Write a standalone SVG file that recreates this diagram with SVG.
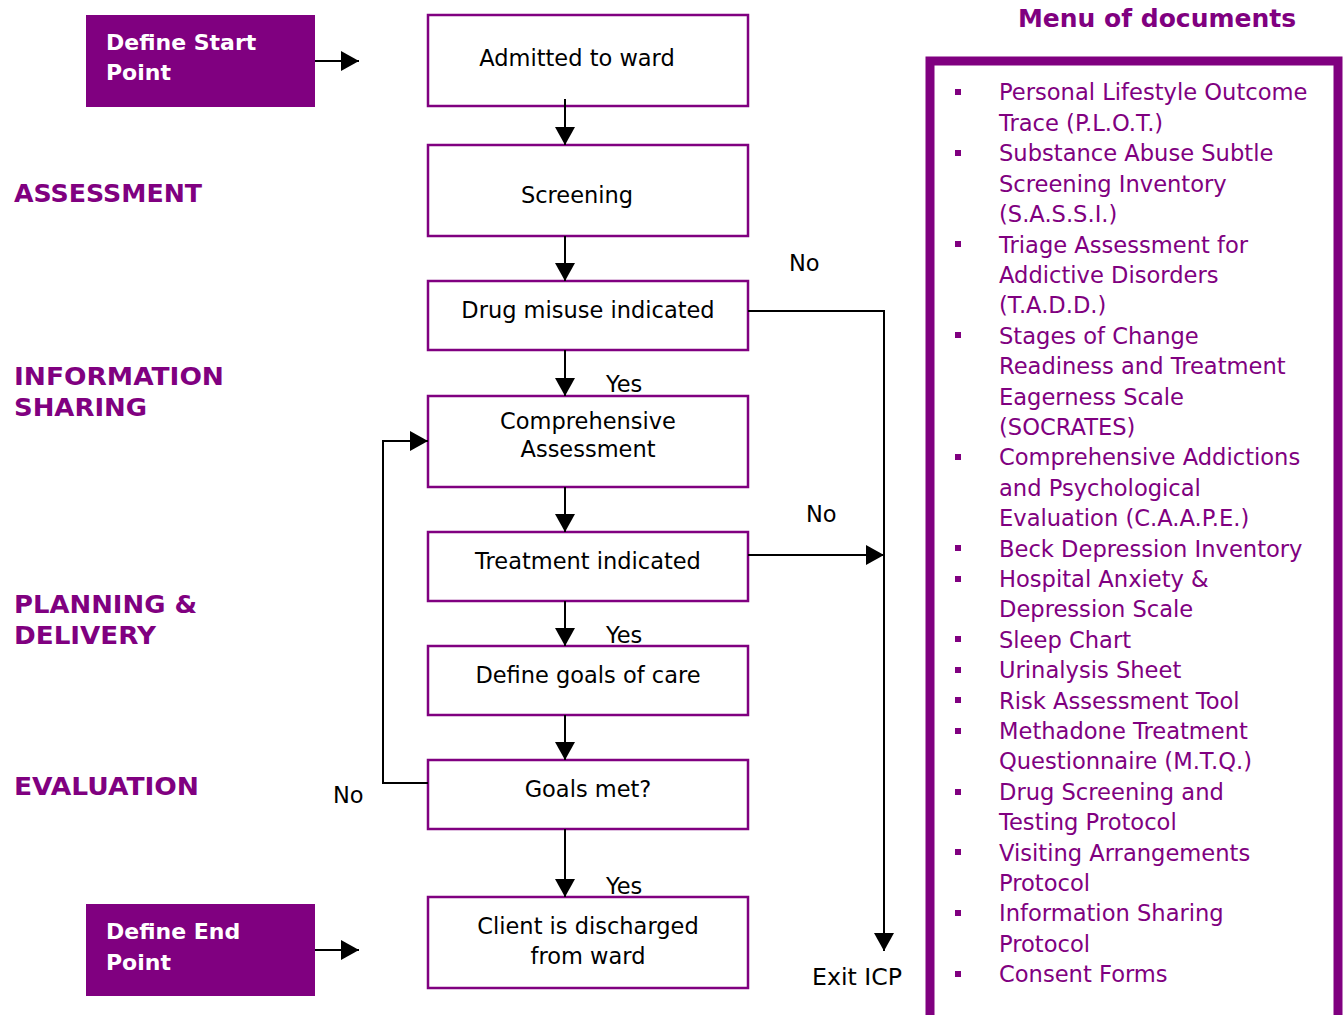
<svg xmlns="http://www.w3.org/2000/svg" width="1343" height="1015" viewBox="0 0 1343 1015">
<style>
text{font-family:"DejaVu Sans","Verdana",sans-serif}
.box{fill:#fff;stroke:#800080;stroke-width:2.5}
.pbox{fill:#800080}
.t{font-size:22.5px;fill:#000}
.tm{font-size:22.5px;fill:#000;text-anchor:middle}
.w{font-size:22px;font-weight:bold;fill:#fff}
.h{font-size:25px;font-weight:bold;fill:#800080}
.m{font-size:22.6px;fill:#800080}
.b{fill:#800080}
.c{fill:none;stroke:#000;stroke-width:2}
</style>
<defs>
<marker id="ah" markerUnits="userSpaceOnUse" markerWidth="18" markerHeight="20" refX="18" refY="10" orient="auto">
<path d="M0,0 L18,10 L0,20 Z" fill="#000"/>
</marker>
</defs>

<g id="labels">
<text class="h" x="14" y="202" textLength="188" lengthAdjust="spacingAndGlyphs">ASSESSMENT</text>
<text class="h" x="14" y="385" textLength="210" lengthAdjust="spacingAndGlyphs">INFORMATION</text>
<text class="h" x="14" y="416" textLength="133" lengthAdjust="spacingAndGlyphs">SHARING</text>
<text class="h" x="14" y="613" textLength="183" lengthAdjust="spacingAndGlyphs">PLANNING &amp;</text>
<text class="h" x="14" y="644" textLength="142" lengthAdjust="spacingAndGlyphs">DELIVERY</text>
<text class="h" x="14" y="795" textLength="185" lengthAdjust="spacingAndGlyphs">EVALUATION</text>
</g>

<g id="start">
<rect class="pbox" x="86" y="15" width="229" height="92"/>
<text class="w" x="106" y="50">Define Start</text>
<text class="w" x="106" y="80">Point</text>
</g>
<g id="end">
<rect class="pbox" x="86" y="904" width="229" height="92"/>
<text class="w" x="106" y="939">Define End</text>
<text class="w" x="106" y="970">Point</text>
</g>

<g id="n1"><rect class="box" x="428" y="15" width="320" height="91"/><text class="tm" x="577" y="66">Admitted to ward</text></g>
<g id="n2"><rect class="box" x="428" y="145" width="320" height="91"/><text class="tm" x="577" y="203">Screening</text></g>
<g id="n3"><rect class="box" x="428" y="281" width="320" height="69"/><text class="tm" x="588" y="318">Drug misuse indicated</text></g>
<g id="n4"><rect class="box" x="428" y="396" width="320" height="91"/><text class="tm" x="588" y="429">Comprehensive</text><text class="tm" x="588" y="457">Assessment</text></g>
<g id="n5"><rect class="box" x="428" y="532" width="320" height="69"/><text class="tm" x="588" y="569">Treatment indicated</text></g>
<g id="n6"><rect class="box" x="428" y="646" width="320" height="69"/><text class="tm" x="588" y="683">Define goals of care</text></g>
<g id="n7"><rect class="box" x="428" y="760" width="320" height="69"/><text class="tm" x="588" y="797">Goals met?</text></g>
<g id="n8"><rect class="box" x="428" y="897" width="320" height="91"/><text class="tm" x="588" y="934">Client is discharged</text><text class="tm" x="588" y="964">from ward</text></g>

<g id="connectors">
<path class="c" d="M315,61 H359" marker-end="url(#ah)"/>
<path class="c" d="M315,950 H359" marker-end="url(#ah)"/>
<path class="c" d="M565,99 V145" marker-end="url(#ah)"/>
<path class="c" d="M565,236 V281" marker-end="url(#ah)"/>
<path class="c" d="M565,350 V396" marker-end="url(#ah)"/>
<path class="c" d="M565,487 V532" marker-end="url(#ah)"/>
<path class="c" d="M565,601 V646" marker-end="url(#ah)"/>
<path class="c" d="M565,715 V760" marker-end="url(#ah)"/>
<path class="c" d="M565,829 V897" marker-end="url(#ah)"/>
<path class="c" d="M748,311 H884 V951" marker-end="url(#ah)"/>
<path class="c" d="M748,555 H884" marker-end="url(#ah)"/>
<path class="c" d="M428,783 H383 V441 H428" marker-end="url(#ah)"/>
<text class="t" x="606" y="392">Yes</text>
<text class="t" x="606" y="643">Yes</text>
<text class="t" x="606" y="894">Yes</text>
<text class="t" x="789" y="271">No</text>
<text class="t" x="806" y="522">No</text>
<text class="t" x="333" y="803">No</text>
<text class="t" x="812" y="985" textLength="90" lengthAdjust="spacingAndGlyphs">Exit ICP</text>
</g>

<g id="menu">
<text class="h" x="1157" y="27" text-anchor="middle">Menu of documents</text>
<rect x="930" y="61" width="408" height="960" fill="none" stroke="#800080" stroke-width="9"/>
<g class="b">
<rect x="955" y="89" width="6" height="6"/>
<rect x="955" y="150" width="6" height="6"/>
<rect x="955" y="241" width="6" height="6"/>
<rect x="955" y="332" width="6" height="6"/>
<rect x="955" y="454" width="6" height="6"/>
<rect x="955" y="545" width="6" height="6"/>
<rect x="955" y="576" width="6" height="6"/>
<rect x="955" y="636" width="6" height="6"/>
<rect x="955" y="667" width="6" height="6"/>
<rect x="955" y="697" width="6" height="6"/>
<rect x="955" y="728" width="6" height="6"/>
<rect x="955" y="789" width="6" height="6"/>
<rect x="955" y="849" width="6" height="6"/>
<rect x="955" y="910" width="6" height="6"/>
<rect x="955" y="971" width="6" height="6"/>
</g>
<text class="m" x="999" y="100">Personal Lifestyle Outcome</text>
<text class="m" x="999" y="131">Trace (P.L.O.T.)</text>
<text class="m" x="999" y="161">Substance Abuse Subtle</text>
<text class="m" x="999" y="192">Screening Inventory</text>
<text class="m" x="999" y="222">(S.A.S.S.I.)</text>
<text class="m" x="999" y="253">Triage Assessment for</text>
<text class="m" x="999" y="283">Addictive Disorders</text>
<text class="m" x="999" y="313">(T.A.D.D.)</text>
<text class="m" x="999" y="344">Stages of Change</text>
<text class="m" x="999" y="374">Readiness and Treatment</text>
<text class="m" x="999" y="405">Eagerness Scale</text>
<text class="m" x="999" y="435">(SOCRATES)</text>
<text class="m" x="999" y="465">Comprehensive Addictions</text>
<text class="m" x="999" y="496">and Psychological</text>
<text class="m" x="999" y="526">Evaluation (C.A.A.P.E.)</text>
<text class="m" x="999" y="557">Beck Depression Inventory</text>
<text class="m" x="999" y="587">Hospital Anxiety &amp;</text>
<text class="m" x="999" y="617">Depression Scale</text>
<text class="m" x="999" y="648">Sleep Chart</text>
<text class="m" x="999" y="678">Urinalysis Sheet</text>
<text class="m" x="999" y="709">Risk Assessment Tool</text>
<text class="m" x="999" y="739">Methadone Treatment</text>
<text class="m" x="999" y="769">Questionnaire (M.T.Q.)</text>
<text class="m" x="999" y="800">Drug Screening and</text>
<text class="m" x="999" y="830">Testing Protocol</text>
<text class="m" x="999" y="861">Visiting Arrangements</text>
<text class="m" x="999" y="891">Protocol</text>
<text class="m" x="999" y="921">Information Sharing</text>
<text class="m" x="999" y="952">Protocol</text>
<text class="m" x="999" y="982">Consent Forms</text>
</g>
</svg>
